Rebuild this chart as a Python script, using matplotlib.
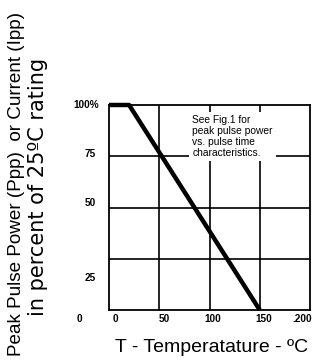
import matplotlib
matplotlib.use("Agg")
import matplotlib.pyplot as plt

# Data
temp = [0, 20, 150]
percent = [100, 100, 0]

x_grid = [50, 100, 150]
y_grid = [25, 50, 75]

x_tick_labels = ["0", "50", "100", "150", ".200"]
x_tick_pos = [6, 55.5, 103.5, 154, 192]
y_tick_labels = ["0", "25", "50", "75", "100%"]
y_tick_pos = [-4.4, 15.7, 52, 76, 100]
y_tick_xpos = [-29, -19, -19, -19, -23]

note = "See Fig.1 for\npeak pulse power\nvs. pulse time\ncharacteristics."
xlabel = "T - Temperatature - ºC"
ylabel1 = "Peak Pulse Power (Ppp)  or Current (Ipp)"
ylabel2 = "in percent of 25ºC rating"

plt.rcParams['font.family'] = ['Liberation Sans', 'DejaVu Sans']

fig = plt.figure(figsize=(3.19, 3.62), dpi=100)
ax = fig.add_axes([109/319, 52/362, 201/319, 205/362])
ax.set_xlim(0, 200)
ax.set_ylim(0, 100)

for g in x_grid:
    ax.axvline(g, color='black', lw=1.2, zorder=1)
for g in y_grid:
    ax.axhline(g, color='black', lw=1.2, zorder=1)

ax.plot(temp, percent, color='black', lw=3.2, solid_capstyle='butt', zorder=4, clip_on=False)

ax.text(83, 95, note, fontsize=7.4, linespacing=1.12, va='top', ha='left', zorder=3,
        bbox=dict(facecolor='white', edgecolor='none', pad=0, boxstyle='square,pad=0.3'))

for s in ax.spines.values():
    s.set_linewidth(1.3)

ax.set_xticks([])
ax.set_yticks([])
for lab, xp in zip(x_tick_labels, x_tick_pos):
    ax.text(xp, -4.4, lab, fontsize=7.2, fontweight='bold', ha='center', va='center',
            clip_on=False)
for lab, yp, xp in zip(y_tick_labels, y_tick_pos, y_tick_xpos):
    ax.text(xp, yp, lab, fontsize=7.2, fontweight='bold', ha='center', va='center',
            clip_on=False)

fig.text(212/319, 1 - 348/362, xlabel, fontsize=14, ha='center', va='center')
fig.text(17/319, 1 - 184/362, ylabel1, fontsize=13.6, ha='center', va='center',
         rotation=90)
fig.text(38/319, 1 - 187/362, ylabel2, fontsize=15, ha='center', va='center',
         rotation=90, family=['DejaVu Sans'])

fig.savefig("out.png", dpi=100)
